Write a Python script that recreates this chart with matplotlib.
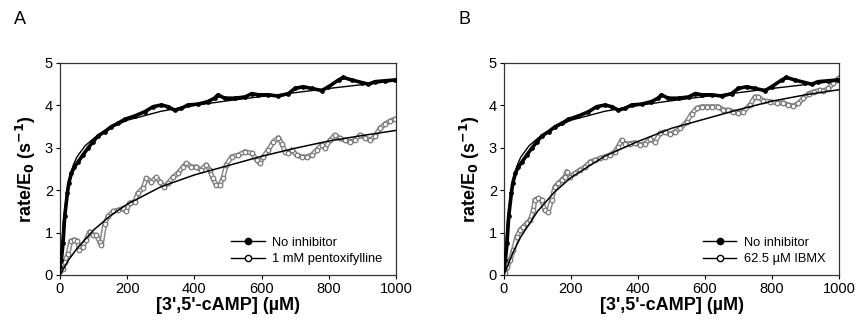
import matplotlib
matplotlib.use("Agg")
import matplotlib.pyplot as plt
from matplotlib.lines import Line2D

plt.rcParams['font.family'] = ['Liberation Sans', 'DejaVu Sans']

# no inhibitor (same trace in both panels)
ctrl_x = [0, 4, 9, 14, 22, 26, 34, 42, 54, 68, 83, 98, 113, 133, 153, 173, 192, 222, 252, 277,
          302, 321, 341, 361, 381, 411, 440, 460, 470, 490, 521, 551, 571, 590, 620, 650, 680, 699,
          724, 749, 779, 799, 829, 843, 868, 898, 918, 938, 967, 997]
ctrl_y = [0.2, 0.35, 0.75, 1.38, 1.93, 2.16, 2.4, 2.54, 2.67, 2.83, 2.99, 3.14, 3.28, 3.38, 3.5, 3.58, 3.67, 3.75, 3.85, 3.97,
          4.01, 3.97, 3.89, 3.93, 4.01, 4.03, 4.09, 4.17, 4.25, 4.17, 4.17, 4.2, 4.28, 4.25, 4.25, 4.22, 4.28, 4.4,
          4.44, 4.4, 4.35, 4.44, 4.6, 4.66, 4.6, 4.54, 4.5, 4.56, 4.58, 4.6]
ctrl_fit_x = [0, 5, 10, 20, 30, 40, 50, 75, 100, 150, 200, 300, 400, 500, 600, 700, 800, 900, 1000]
ctrl_fit_y = [0, 0.7, 1.25, 1.95, 2.35, 2.6, 2.78, 3.05, 3.22, 3.47, 3.65, 3.86, 4.0, 4.11, 4.21, 4.3, 4.4, 4.49, 4.58]

# 1 mM pentoxifylline
ptx_x = [0, 4, 8, 14, 24, 32, 42, 52, 58, 68, 78, 88, 98, 108, 118, 123, 133, 143, 158, 173,
         187, 197, 207, 222, 232, 247, 257, 272, 287, 297, 310, 321, 336, 351, 366, 376, 391, 406, 420, 435,
         445, 455, 465, 475, 485, 495, 511, 531, 551, 571, 586, 595, 605, 620, 635, 650, 660, 670, 680, 690,
         704, 719, 734, 749, 764, 779, 789, 804, 818, 833, 848, 863, 878, 893, 908, 923, 938, 952, 967, 982,
         997]
ptx_y = [0.1, 0.27, 0.15, 0.3, 0.5, 0.8, 0.83, 0.8, 0.6, 0.67, 0.83, 1.02, 0.94, 0.94, 0.78, 0.7, 1.2, 1.38, 1.5, 1.53,
         1.57, 1.5, 1.7, 1.73, 1.93, 2.05, 2.28, 2.2, 2.3, 2.2, 2.08, 2.16, 2.3, 2.4, 2.55, 2.63, 2.55, 2.55, 2.48, 2.6,
         2.48, 2.28, 2.12, 2.12, 2.28, 2.6, 2.79, 2.83, 2.91, 2.87, 2.71, 2.63, 2.79, 2.95, 3.14, 3.24, 3.1, 2.91, 2.87, 2.95,
         2.83, 2.79, 2.79, 2.83, 2.95, 3.07, 2.99, 3.18, 3.3, 3.22, 3.18, 3.14, 3.18, 3.3, 3.24, 3.18, 3.28, 3.46, 3.56, 3.63,
         3.68]
ptx_fit_x = [0, 25, 50, 100, 150, 200, 300, 400, 500, 600, 700, 800, 900, 1000]
ptx_fit_y = [0, 0.35, 0.62, 1.06, 1.4, 1.67, 2.08, 2.36, 2.58, 2.8, 2.99, 3.16, 3.29, 3.41]

# 62.5 uM IBMX
ibmx_x = [0, 3, 10, 18, 28, 38, 48, 58, 68, 78, 88, 92, 102, 112, 122, 132, 142, 152, 162, 172,
          182, 187, 197, 212, 227, 242, 257, 272, 287, 301, 316, 331, 341, 351, 361, 376, 391, 406, 421, 436,
          451, 466, 481, 495, 511, 526, 545, 560, 575, 590, 605, 620, 640, 655, 670, 685, 699, 714, 734, 749,
          759, 774, 794, 814, 834, 849, 864, 879, 894, 909, 924, 943, 953, 968, 983, 993, 1000]
ibmx_y = [0.0, 0.04, 0.2, 0.35, 0.59, 0.9, 1.06, 1.14, 1.22, 1.3, 1.53, 1.77, 1.81, 1.77, 1.53, 1.49, 1.77, 2.08, 2.16, 2.24,
          2.32, 2.44, 2.32, 2.4, 2.48, 2.55, 2.67, 2.71, 2.75, 2.79, 2.83, 2.91, 3.03, 3.18, 3.1, 3.1, 3.12, 3.07, 3.1, 3.2,
          3.14, 3.34, 3.38, 3.32, 3.38, 3.46, 3.61, 3.8, 3.93, 3.97, 3.97, 3.97, 3.97, 3.89, 3.89, 3.85, 3.83, 3.85, 4.01, 4.2,
          4.2, 4.11, 4.09, 4.06, 4.06, 4.01, 3.99, 4.05, 4.17, 4.28, 4.32, 4.36, 4.34, 4.4, 4.52, 4.6, 4.65]
ibmx_fit_x = [0, 25, 50, 100, 150, 200, 300, 400, 500, 600, 700, 800, 900, 1000]
ibmx_fit_y = [0, 0.5, 0.9, 1.5, 1.95, 2.3, 2.8, 3.15, 3.46, 3.68, 3.9, 4.1, 4.25, 4.37]

panels = [
    ("A", "1 mM pentoxifylline", ptx_x, ptx_y, ptx_fit_x, ptx_fit_y),
    ("B", "62.5 \u00b5M IBMX", ibmx_x, ibmx_y, ibmx_fit_x, ibmx_fit_y),
]
axes_pos = [[60 / 857, 51 / 326, 336 / 857, 212 / 326],
            [504 / 857, 51 / 326, 335 / 857, 212 / 326]]
letter_x = [14 / 857, 458 / 857]

fig = plt.figure(figsize=(8.57, 3.26), dpi=100)

for i, (letter, inh_label, ix, iy, ifx, ify) in enumerate(panels):
    ax = fig.add_axes(axes_pos[i])
    # chain of open grey circles
    ax.plot(ix, iy, color='#8a8a8a', lw=3.6, solid_capstyle='round', solid_joinstyle='round', zorder=2)
    ax.plot(ix, iy, color='white', lw=1.4, solid_capstyle='round', solid_joinstyle='round', zorder=2)
    ax.plot(ix, iy, ls='none', marker='o', ms=3.3, mfc='white', mec='#7a7a7a', mew=0.9, zorder=2)
    ax.plot(ifx, ify, color='black', lw=1.1, zorder=3)
    ax.plot(ctrl_x, ctrl_y, color='black', lw=2.6, marker='o', ms=2.4,
            solid_joinstyle='round', zorder=4)
    ax.plot(ctrl_fit_x, ctrl_fit_y, color='black', lw=1.0, zorder=5)

    ax.set_xlim(0, 1000)
    ax.set_ylim(0, 5)
    ax.set_xticks([0, 200, 400, 600, 800, 1000])
    ax.set_yticks([0, 1, 2, 3, 4, 5])
    ax.tick_params(labelsize=10.5, direction='out', length=3, width=0.8, pad=2)
    for s in ax.spines.values():
        s.set_linewidth(0.9)
        s.set_color('#333333')
    ax.set_xlabel("[3',5'-cAMP] (\u00b5M)", fontsize=13, fontweight='bold', labelpad=1)
    ax.set_ylabel("rate/E$_\\mathbf{0}$ (s$^\\mathbf{-1}$)", fontsize=13, fontweight='bold', labelpad=5)

    handles = [
        Line2D([], [], color='black', lw=1.0, marker='o', ms=4.5, mfc='black', mec='black'),
        Line2D([], [], color='black', lw=1.0, marker='o', ms=4.5, mfc='white', mec='black'),
    ]
    ax.legend(handles, ["No inhibitor", inh_label], loc='lower right',
              bbox_to_anchor=(0.995, -0.01), frameon=False, fontsize=9.3,
              handlelength=2.6, handletextpad=0.6, labelspacing=0.35)

    fig.text(letter_x[i], 1 - 20 / 326, letter, fontsize=13, va='center', ha='left')

fig.savefig("out.png", dpi=100)
